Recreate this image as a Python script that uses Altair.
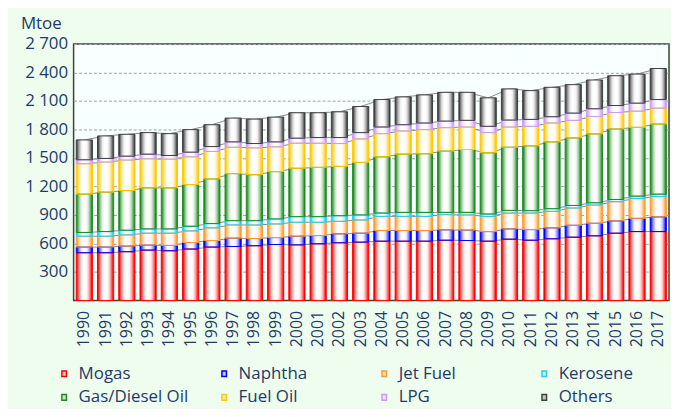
import altair as alt
import pandas as pd

years = ["1990", "1991", "1992", "1993", "1994", "1995", "1996", "1997", "1998", "1999",
         "2000", "2001", "2002", "2003", "2004", "2005", "2006", "2007", "2008", "2009",
         "2010", "2011", "2012", "2013", "2014", "2015", "2016", "2017"]

categories = ["Mogas", "Naphtha", "Jet Fuel", "Kerosene", "Gas/Diesel Oil", "Fuel Oil", "LPG", "Others"]

mogas = [502, 502, 513, 530, 523, 541, 562, 568, 576, 589, 585, 596, 607, 614, 624, 624, 624, 634, 631, 624, 645, 634, 649, 666, 680, 708, 725, 725]
naphtha = [60, 60, 59, 52, 56, 69, 69, 87, 76, 73, 91, 87, 94, 94, 112, 112, 112, 109, 109, 101, 108, 112, 115, 125, 132, 129, 139, 154]
jet_fuel = [114, 114, 118, 126, 129, 122, 133, 140, 142, 143, 147, 140, 132, 139, 149, 149, 149, 160, 160, 160, 167, 174, 174, 182, 192, 202, 210, 215]
kerosene = [40, 49, 49, 45, 45, 49, 45, 45, 46, 53, 59, 59, 59, 53, 35, 42, 42, 24, 27, 25, 28, 25, 28, 27, 24, 24, 24, 25]
gas_diesel = [403, 415, 418, 432, 432, 439, 470, 495, 484, 498, 509, 519, 519, 553, 592, 613, 617, 645, 662, 644, 665, 682, 703, 711, 725, 742, 724, 738]
fuel_oil = [320, 317, 321, 306, 303, 292, 289, 278, 282, 261, 264, 254, 241, 247, 244, 244, 254, 247, 237, 213, 213, 206, 199, 185, 184, 174, 171, 167]
lpg = [42, 38, 41, 49, 38, 49, 52, 56, 46, 52, 53, 60, 63, 67, 70, 66, 70, 69, 70, 66, 73, 73, 66, 76, 81, 73, 84, 91]
others = [209, 237, 230, 227, 230, 237, 230, 251, 257, 261, 268, 261, 271, 275, 289, 293, 296, 303, 295, 300, 328, 303, 310, 300, 303, 314, 306, 327]

series = [mogas, naphtha, jet_fuel, kerosene, gas_diesel, fuel_oil, lpg, others]

colors = ["#FF0000", "#0000FF", "#FF9A2E", "#22CCF5", "#1E8A1E", "#FFC800", "#CC99FF", "#404040"]
tints = ["#FFC8C8", "#C8C8FF", "#FFE0C0", "#C8F2FF", "#C8E6C8", "#FFF0B0", "#F0E0FF", "#C8C8C8"]

# horizontal shading made of nested strips: (relative width, share of the colour)
levels = [(1.0, 1.0), (0.86, 0.7), (0.72, 0.45), (0.58, 0.25), (0.44, 0.1), (0.3, 0.03), (0.16, 0.0)]


def mix(hex_color, share):
    h = hex_color.lstrip("#")
    rgb = [int(h[k:k + 2], 16) for k in (0, 2, 4)]
    out = [round(255 + (v - 255) * share) for v in rgb]
    return "#" + "".join(f"{v:02X}" for v in out)


rows = []
for i, y in enumerate(years):
    lo = 0
    for c, col, vals in zip(categories, colors, series):
        hi = lo + vals[i]
        row = {"year": y, "cat": c, "lo": lo, "hi": hi, "stroke": col}
        for k, (_, share) in enumerate(levels):
            row[f"c{k}"] = mix(col, share)
        rows.append(row)
        lo = hi
df = pd.DataFrame(rows)

FONT = "Open Sans"
TXT = "#1F3A68"

x_enc = alt.X("year:O", sort=years,
              scale=alt.Scale(paddingInner=0.24, paddingOuter=0.125),
              axis=alt.Axis(title=None, labelAngle=-90, labelFontSize=16, labelFont=FONT,
                            labelColor=TXT, labelPadding=10, ticks=False, domain=False, grid=False))
y_scale = alt.Scale(domain=[0, 2700], nice=False)
y_axis = alt.Axis(title="Mtoe", titleAngle=0, titleX=-33, titleY=-21, titleAlign="center",
                  titleBaseline="middle", titleFontSize=17, titleFont=FONT, titleFontWeight="normal",
                  titleColor=TXT, values=[300, 600, 900, 1200, 1500, 1800, 2100, 2400, 2700],
                  tickCount=12,
                  labelExpr="replace(format(datum.value, ','), ',', ' ')", labelOverlap=False,
                  labelFontSize=17, labelFont=FONT, labelColor=TXT, labelPadding=6,
                  ticks=False, domain=False, grid=True, gridColor="#A0A0A0",
                  gridDash=[3, 2], gridWidth=1)

base = alt.Chart(df)

lines = base.mark_line(color="#8A8A8A", strokeWidth=1).encode(
    x=x_enc, y=alt.Y("hi:Q", scale=y_scale, axis=y_axis), detail="cat:N")

legend_df = pd.DataFrame({"cat": categories, "year": [years[0]] * len(categories), "v": [0] * len(categories)})
legend = alt.Legend(title=None, orient="none", legendX=-18, legendY=323, columns=4, direction="horizontal",
                    columnPadding=27, rowPadding=6, gridAlign="all",
                    symbolType="M-0.4,-0.5H0.4V0.5H-0.4Z", symbolSize=130, symbolStrokeWidth=1.5,
                    labelFontSize=17, labelFont=FONT, labelColor=TXT, labelOffset=6)
dummy = alt.Chart(legend_df).mark_point(filled=True, opacity=1, clip=True, size=20).encode(
    x=alt.X("year:O", sort=years),
    y=alt.Y("v:Q"),
    fill=alt.Fill("cat:N", scale=alt.Scale(domain=categories, range=tints), legend=legend),
    stroke=alt.Stroke("cat:N", scale=alt.Scale(domain=categories, range=colors), legend=legend),
)

strips = []
for k, (w, _) in enumerate(levels):
    strips.append(
        base.mark_bar(width=alt.RelativeBandSize(w)).encode(
            x=alt.X("year:O", sort=years), y=alt.Y("lo:Q"), y2="hi:Q",
            fill=alt.Fill(f"c{k}:N", scale=None))
    )
outline = base.mark_bar(width=alt.RelativeBandSize(1.0), fillOpacity=0, strokeWidth=1).encode(
    x=alt.X("year:O", sort=years), y=alt.Y("lo:Q"), y2="hi:Q",
    stroke=alt.Stroke("stroke:N", scale=None))

chart = alt.layer(lines, dummy, *strips, outline).properties(
    width=599, height=258,
    autosize=alt.AutoSizeParams(type="none"),
    padding={"left": 66, "top": 35, "right": 2, "bottom": 108},
    background="#EEFDEE",
).configure_view(fill="#F7FFFF", stroke="#404040", strokeWidth=1.5)

chart.save("out.html", embed_options={"renderer": "svg", "actions": False})
